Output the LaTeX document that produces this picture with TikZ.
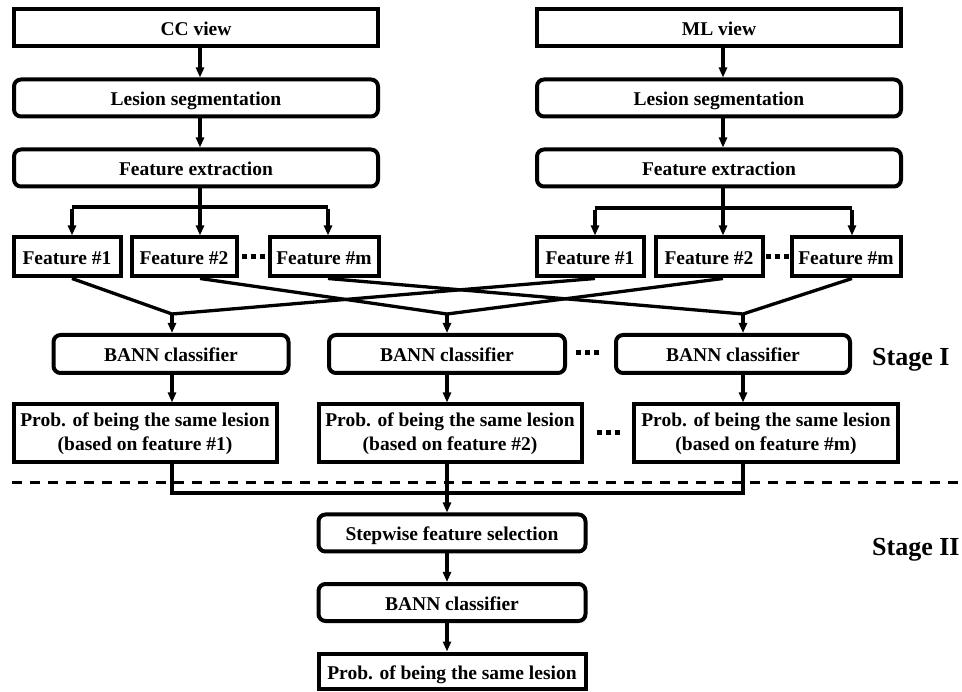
\documentclass[tikz,border=0pt]{standalone}
\usepackage{fontspec}
\setmainfont{Liberation Serif}
\usetikzlibrary{arrows.meta}
\tikzset{
  sq/.style={draw, line width=4pt, inner sep=0pt, align=center,
    font=\bfseries\fontsize{19.5}{24}\selectfont},
  one/.style={text height=16pt, text depth=0pt},
  rbox/.style={sq, rounded corners=7pt},
  conn/.style={line width=3.3pt},
  arr/.style={conn, -{Triangle[length=10pt,width=8pt]}},
  dotsq/.style={fill, minimum size=5pt, inner sep=0pt, draw=none},
  stagelbl/.style={anchor=west, inner sep=0pt, font=\bfseries\fontsize{26}{30}\selectfont}
}
\begin{document}
\begin{tikzpicture}[x=1pt,y=-1pt]
\useasboundingbox (0,0) rectangle (962,692);
% top chains
\node[sq, one, minimum width=364pt, minimum height=37pt] (cc) at (196,28) {CC view};
\node[rbox, one, minimum width=364pt, minimum height=37pt] (ls1) at (196,98) {Lesion segmentation};
\node[rbox, one, minimum width=364pt, minimum height=37pt] (fe1) at (196,168) {Feature extraction};
\node[sq, one, minimum width=364pt, minimum height=37pt] (ml) at (719,28) {ML view};
\node[rbox, one, minimum width=364pt, minimum height=37pt] (ls2) at (719,98) {Lesion segmentation};
\node[rbox, one, minimum width=364pt, minimum height=37pt] (fe2) at (719,168) {Feature extraction};
\coordinate (ax1) at (200,0);
\coordinate (ax2) at (723,0);
\draw[arr] (cc.south -| ax1) -- (ls1.north -| ax1);
\draw[arr] (ls1.south -| ax1) -- (fe1.north -| ax1);
\draw[arr] (ml.south -| ax2) -- (ls2.north -| ax2);
\draw[arr] (ls2.south -| ax2) -- (fe2.north -| ax2);
% feature boxes
\node[sq, one, minimum width=107pt, minimum height=39pt] (f11) at (67,257) {Feature \#1};
\node[sq, one, minimum width=105pt, minimum height=39pt] (f12) at (184,257) {Feature \#2};
\node[sq, one, minimum width=109pt, minimum height=39pt] (f1m) at (324,257) {Feature \#m};
\node[sq, one, minimum width=107pt, minimum height=39pt] (f21) at (590,257) {Feature \#1};
\node[sq, one, minimum width=107pt, minimum height=39pt] (f22) at (709,257) {Feature \#2};
\node[sq, one, minimum width=109pt, minimum height=39pt] (f2m) at (846,257) {Feature \#m};
% branches
\coordinate (bl1) at (72,207);
\coordinate (bl2) at (200,207);
\coordinate (bl3) at (328,207);
\coordinate (br1) at (595,208);
\coordinate (br2) at (723,208);
\coordinate (br3) at (852,208);
\draw[conn] (fe1.south -| bl2) -- (bl2);
\draw[conn] (fe2.south -| br2) -- (br2);
\draw[conn] (bl1) -- (bl3);
\draw[conn] (br1) -- (br3);
\draw[arr] ([yshift=-1.6pt]bl1) -- (bl1 |- f11.north);
\draw[arr] (bl2) -- (bl2 |- f12.north);
\draw[arr] ([yshift=-1.6pt]bl3) -- (bl3 |- f1m.north);
\draw[arr] ([yshift=-1.6pt]br1) -- (br1 |- f21.north);
\draw[arr] (br2) -- (br2 |- f22.north);
\draw[arr] ([yshift=-1.6pt]br3) -- (br3 |- f2m.north);
% dots between features
\node[dotsq] (d1a) at (244.5,257) {};
\node[dotsq] (d1b) at (253.5,257) {};
\node[dotsq] (d1c) at (262.5,257) {};
\node[dotsq] (d2a) at (768.5,257) {};
\node[dotsq] (d2b) at (777.5,257) {};
\node[dotsq] (d2c) at (786.5,257) {};
% BANN classifiers
\node[rbox, one, minimum width=235pt, minimum height=38pt] (b1) at (171,354) {BANN classifier};
\node[rbox, one, minimum width=236pt, minimum height=38pt] (b2) at (447,354) {BANN classifier};
\node[rbox, one, minimum width=234pt, minimum height=38pt] (b3) at (733,354) {BANN classifier};
\coordinate (m1) at (172,314);
\coordinate (m2) at (447,314);
\coordinate (m3) at (743,314);
\draw[conn, line join=round] (f11.south -| bl1) -- (m1) -- (f21.south -| br1);
\draw[conn, line join=round] (f12.south -| bl2) -- (m2) -- (f22.south -| br2);
\draw[conn, line join=round] (f1m.south -| bl3) -- (m3) -- (f2m.south -| br3);
\draw[arr] (m1) -- (m1 |- b1.north);
\draw[arr] (m2) -- (m2 |- b2.north);
\draw[arr] (m3) -- (m3 |- b3.north);
\node[dotsq] (d3a) at (578,353) {};
\node[dotsq] (d3b) at (587,353) {};
\node[dotsq] (d3c) at (596,353) {};
% probability boxes
\node[sq, minimum width=263pt, minimum height=58pt] (p1) at (145,433.5) {Prob. of being the same lesion\\(based on feature \#1)};
\node[sq, minimum width=263pt, minimum height=58pt] (p2) at (450,433.5) {Prob. of being the same lesion\\(based on feature \#2)};
\node[sq, minimum width=264pt, minimum height=58pt] (p3) at (766,433.5) {Prob. of being the same lesion\\(based on feature \#m)};
\draw[arr] (b1.south -| m1) -- (p1.north -| m1);
\draw[arr] (b2.south -| m2) -- (p2.north -| m2);
\draw[arr] (b3.south -| m3) -- (p3.north -| m3);
\node[dotsq] (d4a) at (599,433) {};
\node[dotsq] (d4b) at (608,433) {};
\node[dotsq] (d4c) at (617,433) {};
% stage divider
\coordinate (dl) at (12,483);
\coordinate (dr) at (962,483);
\draw[line width=3pt, dash pattern=on 10pt off 8pt] (dl) -- (dr);
% collector
\coordinate (j1) at (172,493);
\coordinate (j3) at (743,493);
\draw[conn] (p1.south -| j1) -- (j1) -- (j3) -- (p3.south -| j3);
% stage II
\node[rbox, one, minimum width=267pt, minimum height=37pt] (st) at (452,533) {Stepwise feature selection};
\node[rbox, one, minimum width=267pt, minimum height=37pt] (bf) at (452,602.5) {BANN classifier};
\node[sq, one, minimum width=267pt, minimum height=35pt] (pf) at (452,671) {Prob. of being the same lesion};
\draw[arr] (p2.south -| m2) -- (st.north -| m2);
\draw[arr] (st.south -| m2) -- (bf.north -| m2);
\draw[arr] (bf.south -| m2) -- (pf.north -| m2);
% stage labels
\node[stagelbl] (s1) at (872,360) {Stage I};
\node[stagelbl] (s2) at (872,550) {Stage II};
\end{tikzpicture}
\end{document}
